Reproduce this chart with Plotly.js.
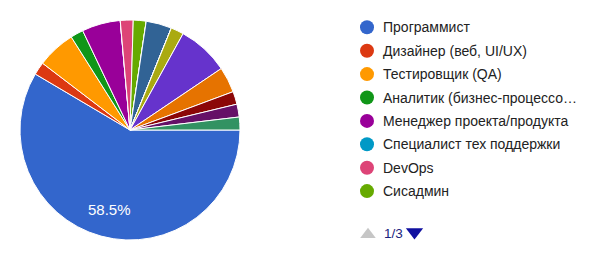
<!DOCTYPE html>
<html><head><meta charset="utf-8">
<script src="https://cdn.plot.ly/plotly-3.0.1.min.js"></script>
<style>html,body{margin:0;padding:0;background:#fff}#chart{width:600px;height:263px}</style>
</head><body><div id="chart"></div>
<script>
// Legend page 1 of 3 (first 8 answer options)
const legendLabels = ["Программист","Дизайнер (веб, UI/UX)","Тестировщик (QA)","Аналитик (бизнес-процессо…","Менеджер проекта/продукта","Специалист тех поддержки","DevOps","Сисадмин"];
// Number of responses per answer option (53 total)
const responseCounts = [31,1,3,1,3,0,1,1,0,2,0,0,1,4,2,1,1,1];
const sliceColors = ["#3366cc","#dc3912","#ff9900","#109618","#990099","#0099c6","#dd4477","#66aa00","#b82e2e","#316395","#994499","#22aa99","#aaaa11","#6633cc","#e67300","#8b0707","#651067","#329262"];
const pageLabel = "1/3";

const W = 600, H = 263;
const FONT = "Liberation Sans, Arial, sans-serif";
const legX = 367, legTextX = 381, legY0 = 27.3, legStep = 23.4;
const legYs = legendLabels.map((_, i) => legY0 + legStep * i);

const total = responseCounts.reduce((a, b) => a + b, 0);
const topShare = (responseCounts[0] / total * 100).toFixed(1) + "%";

const pie = {
  type: "pie",
  values: responseCounts,
  marker: {colors: sliceColors, line: {color: "#ffffff", width: 1}},
  sort: false,
  direction: "clockwise",
  rotation: 90,
  textinfo: "none",
  domain: {x: [20 / W, 240 / W], y: [(H - 240) / H, (H - 20) / H]},
  showlegend: false,
  hoverinfo: "none"
};

const legendDots = {
  type: "scatter", mode: "markers",
  x: legendLabels.map(() => legX), y: legYs,
  marker: {size: 14, color: sliceColors.slice(0, legendLabels.length), line: {width: 0}},
  showlegend: false, hoverinfo: "none"
};

const pagerPrev = {
  type: "scatter", mode: "markers", x: [368], y: [234.5],
  marker: {size: 13.5, symbol: "triangle-up", color: "#c6c6c6", opacity: 1, line: {width: 0}},
  showlegend: false, hoverinfo: "none"
};
const pagerNext = {
  type: "scatter", mode: "markers", x: [414.5], y: [232],
  marker: {size: 15, symbol: "triangle-down", color: "#1010a0", opacity: 1, line: {width: 0}},
  showlegend: false, hoverinfo: "none"
};

const annotations = legendLabels.map((t, i) => ({
  x: legTextX, y: legYs[i], xref: "x", yref: "y", text: t, showarrow: false,
  xanchor: "left", yanchor: "middle", font: {family: FONT, size: 14, color: "#222222"}
}));
annotations.push({
  x: 382, y: 233, xref: "x", yref: "y", text: pageLabel, showarrow: false,
  xanchor: "left", yanchor: "middle", font: {family: FONT, size: 13.5, color: "#1a237e"}
});
annotations.push({
  x: 109, y: 209.5, xref: "x", yref: "y", text: topShare, showarrow: false,
  xanchor: "center", yanchor: "middle", font: {family: FONT, size: 15, color: "#ffffff"}
});

const layout = {
  width: W, height: H,
  margin: {l: 0, r: 0, t: 0, b: 0, pad: 0},
  paper_bgcolor: "#ffffff", plot_bgcolor: "rgba(0,0,0,0)",
  xaxis: {range: [0, W], visible: false, fixedrange: true},
  yaxis: {range: [H, 0], visible: false, fixedrange: true},
  annotations: annotations,
  showlegend: false
};

Plotly.newPlot("chart", [pie, legendDots, pagerPrev, pagerNext], layout, {displayModeBar: false, staticPlot: true});
</script></body></html>
